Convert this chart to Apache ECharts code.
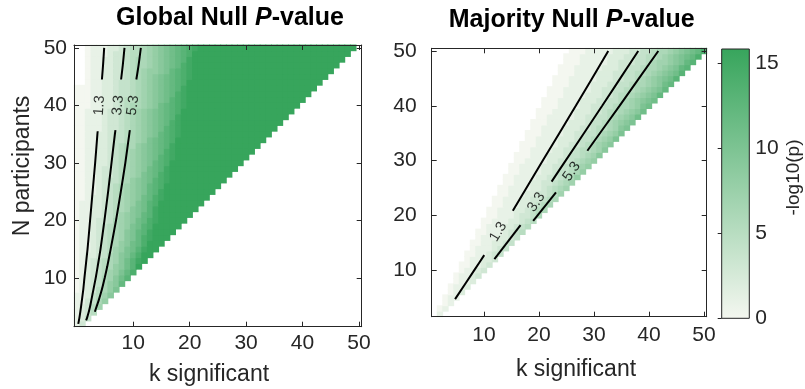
<!DOCTYPE html>
<html><head><meta charset="utf-8">
<script src="https://cdn.jsdelivr.net/npm/echarts@6/dist/echarts.min.js"></script>
<style>html,body{margin:0;padding:0;background:#fff}#c{width:805px;height:389px}</style>
</head><body><div id="c"></div>
<script>
// ---------- DATA ----------
const xTicks = [10, 20, 30, 40, 50];
const yTicks = [10, 20, 30, 40, 50];
const cbTicks = [0, 5, 10, 15];
const cbMax = 15.85;
const titles = ['Global Null ', 'P', '-value', 'Majority Null '];
const xName = 'k significant';
const yName = 'N participants';
const cbName = '-log10(p)';

// -log10(p) levels read per row (0-9, a-g = 10-16, '-' = blank).
// Global null: row N = 2..50, character i is column k = i.
const G10 = 'gggggggggg';
const globalRows = [
  '13', '124', '1235', '12357', '113468', '1124579', '0123568a', '01234689c',
  '01234679bd', '01234578ace', '012345689bdg', '012345679bdfg', '012234679acegg',
  '011234578abdfgg', '0112345689bceggg', '0112345679acefggg', '0112345679acdfgggg',
  '0112345678abdeggggg', '01123346789bcefggggg',
  '01122345789acdf' + 'gggggg',
  '01122345679abdf' + 'ggggggg',
  '01122345678abde' + 'gggggggg',
  '001223456789bcef' + 'gggggggg',
  '001123456789acdf' + 'ggggggggg',
  '001123456789acde' + G10,
  '001123445689abdef' + G10,
  '001123345678abcef' + G10 + 'g',
  '0011233456789bcdf' + G10 + 'gg',
  '0011223456789acde' + G10 + 'ggg',
  '0011223456789abdef' + G10 + 'ggg',
  '0011223456789abcef' + G10 + 'gggg',
  '0011223456689abcdf' + G10 + 'ggggg',
  '0011223445678abcde' + G10 + 'gggggg',
  '00112234456789acdef' + G10 + 'gggggg',
  '00111233456789abdef' + G10 + 'ggggggg',
  '00111233456789abcef' + G10 + 'gggggggg',
  '00111233456789abcdf' + G10 + 'ggggggggg',
  '00111233456789abcde' + G10 + G10,
  '000112234566789bcdef' + G10 + G10,
  '000112234556789abdef' + G10 + G10 + 'g',
  '000112234456789abcef' + G10 + G10 + 'gg',
  '000112234456789abcdf' + G10 + G10 + 'ggg',
  '--0112234456789abcde' + G10 + G10 + 'gggg',
  '--0112233456789abcdef' + G10 + G10 + 'gggg',
  '--01122334567889acdef' + G10 + G10 + 'ggggg',
  '--01122334566789abcef' + G10 + G10 + 'gggggg',
  '--01122334566789abcdf' + G10 + G10 + 'ggggggg',
  '--01112334556789abcde' + G10 + G10 + 'gggggggg',
  '--01112234556789abcdef' + G10 + G10 + 'gggggggg'
];
// Majority null: row N = 2..50, the last character is column k = N.
const majorityRows = [
  '1', '01', '01', '011', '012', '0112', '0112', '01123', '01123', '001123', '011223',
  '0011234', '0111234', '00112234', '01112234', '001112345', '011122345', '0011122345',
  '0011123346', '00111223456', '00111223456', '001112233456', '001112233457',
  '0011112234567', '0011122334567', '00111122334568', '00111122344568',
  '001111223345678', '001111223345678', '0001112223445679', '0011112233455679',
  '00011112233456789', '0011112223445678a', '00011112233445678a', '00111122233455679a',
  '000111122234456789a', '001111122334456789b', '0001111222334556789b',
  '000111122334456678ab', '0001111222334456789ab', '0001111222334556789ac',
  '00011111223344556789ac', '00011112223344566789bc', '00011111222334456789abd',
  '00011112223344556789abd', '000111112223344566789acd', '000111112233344567789acd',
  '000111112223344556789abce', '000111112223344566789abce'
];

// contour lines [k, N]
const gContour13 = [[[0.25,2],[0.45,3],[0.75,5],[1.15,8],[1.35,10],[1.9,15],[2.35,20],[2.8,25],[3.25,30],[3.65,35],[3.7,35.5]], [[4.45,44.5],[4.65,47],[4.85,50]]];
const gContour33 = [[[1.65,2.6],[1.8,3],[2.1,4],[2.35,5],[2.55,6],[2.95,8],[3.35,10],[3.7,12],[4.2,15],[4.9,20],[5.55,25],[6.15,30],[6.75,35],[6.85,35.7]], [[7.85,44.5],[8.15,47],[8.45,50]]];
const gContour53 = [[[3.2,4.1],[3.5,5],[3.85,6],[4.45,8],[4.95,10],[5.4,12],[6.0,15],[6.95,20],[7.8,25],[8.6,30],[9.3,35],[9.4,35.7]], [[10.55,44.5],[10.95,47],[11.35,50]]];
const mContour13 = [[[4.75,4.7],[8.25,10],[10.05,12.75]], [[15.25,20.85],[20.7,30],[26.7,40],[32.6,50]]];
const mContour33 = [[[11.9,12],[16.65,18.2]], [[22.3,26.15],[24.85,30],[31.5,40],[38.05,50]]];
const mContour53 = [[[18.95,19],[23.1,24.2]], [[28.8,31.8],[34.65,40],[41.7,50]]];
const contourText = ['1.3', '3.3', '5.3'];
const gLabelPos = [[4.0,40],[7.3,40],[9.95,40]];
const gLabelAngle = [86, 84, 82];
const mLabelPos = [[12.6,17.0],[19.5,22.4],[25.95,28.0]];
const mLabelAngle = [59, 56, 55];

// ---------- CHART ----------
const FONT = 'Liberation Sans, Arial, Helvetica, sans-serif';
const AX = '#262626';
const C0 = '#f4f7f0', C1 = '#37a55c';

function decodeGlobal() {
  const out = [];
  globalRows.forEach((s, r) => {
    const n = r + 2;
    for (let i = 0; i < s.length; i++) {
      if (s[i] === '-') continue;
      out.push([i, n, parseInt(s[i], 36)]);
    }
  });
  return out;
}
function decodeMajority() {
  const out = [];
  majorityRows.forEach((s, r) => {
    const n = r + 2;
    const k0 = n - s.length + 1;
    for (let i = 0; i < s.length; i++) out.push([k0 + i, n, parseInt(s[i], 36)]);
  });
  return out;
}
function renderCell(params, api) {
  const k = api.value(0), n = api.value(1);
  const p0 = api.coord([k - 0.5, n + 0.5]);
  const p1 = api.coord([k + 0.5, n - 0.5]);
  const c = api.visual('color');
  const e = 0.45;
  return { type: 'rect', shape: { x: p0[0] - e, y: p0[1] - e, width: p1[0] - p0[0] + 2 * e, height: p1[1] - p0[1] + 2 * e },
           style: { fill: c, stroke: null } };
}
function xAx(grid, min, max, pos, showLabel, margin) {
  return { gridIndex: grid, type: 'value', min, max, position: pos, z: 10,
    axisLine: { show: true, onZero: false, lineStyle: { color: AX, width: 1 } },
    axisTick: { show: true, inside: true, length: 5, customValues: xTicks, lineStyle: { color: AX } },
    axisLabel: { show: showLabel, customValues: xTicks, fontSize: 21, color: AX, fontFamily: FONT, margin },
    splitLine: { show: false } };
}
function yAx(grid, min, max, pos, showLabel, margin) {
  return { gridIndex: grid, type: 'value', min, max, position: pos, z: 10,
    axisLine: { show: true, onZero: false, lineStyle: { color: AX, width: 1 } },
    axisTick: { show: true, inside: true, length: 5, customValues: yTicks, lineStyle: { color: AX } },
    axisLabel: { show: showLabel, customValues: yTicks, fontSize: 21, color: AX, fontFamily: FONT, margin },
    splitLine: { show: false } };
}
function lines(segs, xi, yi) {
  return segs.map(d => ({ type: 'line', xAxisIndex: xi, yAxisIndex: yi, data: d, symbol: 'none',
    smooth: 0.2, lineStyle: { color: '#000', width: 2 }, z: 5, silent: true }));
}
function labels(pos, ang, xi, yi) {
  return { type: 'scatter', xAxisIndex: xi, yAxisIndex: yi, symbolSize: 0, z: 6, silent: true,
    data: pos.map((p, i) => ({ value: p, name: contourText[i], label: { rotate: ang[i] } })),
    label: { show: true, position: 'inside', formatter: p => p.name, fontSize: 14.5, color: '#000', fontFamily: FONT } };
}

const chart = echarts.init(document.getElementById('c'), null, { width: 805, height: 389 });
const cbAxis = { gridIndex: 2, type: 'value', min: 0, max: cbMax, position: 'right', z: 10,
  axisLine: { show: false },
  axisTick: { show: true, inside: true, length: 4, customValues: cbTicks, lineStyle: { color: AX } },
  axisLabel: { show: true, customValues: cbTicks, fontSize: 21, color: AX, fontFamily: FONT, margin: 6 },
  splitLine: { show: false } };

const series = [
  { type: 'custom', xAxisIndex: 0, yAxisIndex: 0, data: decodeGlobal(), renderItem: renderCell, encode: { x: 0, y: 1 }, z: 2, silent: true },
  { type: 'custom', xAxisIndex: 2, yAxisIndex: 2, data: decodeMajority(), renderItem: renderCell, encode: { x: 0, y: 1 }, z: 2, silent: true }
].concat(
  lines(gContour13, 0, 0), lines(gContour33, 0, 0), lines(gContour53, 0, 0),
  lines(mContour13, 2, 2), lines(mContour33, 2, 2), lines(mContour53, 2, 2),
  [labels(gLabelPos, gLabelAngle, 0, 0), labels(mLabelPos, mLabelAngle, 2, 2)]
);

function titleRich(main) {
  return { text: '{a|' + main + '}{b|' + titles[1] + '}{a|' + titles[2] + '}',
    rich: { a: { fontSize: 25, fontWeight: 'bold', fontFamily: FONT, fill: '#000' },
            b: { fontSize: 25, fontWeight: 'bold', fontStyle: 'italic', fontFamily: FONT, fill: '#000' } },
    align: 'center', verticalAlign: 'middle', textAlign: 'center', textVerticalAlign: 'middle' };
}
function txt(x, y, s, size, rot) {
  return { type: 'text', x, y, rotation: rot || 0, z: 20,
    style: { text: s, fontSize: size, fontFamily: FONT, fill: AX, align: 'center', verticalAlign: 'middle', textAlign: 'center', textVerticalAlign: 'middle' } };
}

chart.setOption({
  animation: false,
  grid: [
    { left: 74, top: 45, width: 287.7, height: 281.7 },
    { left: 431.7, top: 48.3, width: 275, height: 268.4 },
    { left: 721.7, top: 49, width: 27.6, height: 269.3 }
  ],
  xAxis: [
    xAx(0, -0.5, 50.5, 'bottom', true, 6), xAx(0, -0.5, 50.5, 'top', false, 6),
    xAx(1, 0.5, 50.5, 'bottom', true, 8), xAx(1, 0.5, 50.5, 'top', false, 8),
    { gridIndex: 2, type: 'value', min: 0, max: 1, show: false }
  ],
  yAxis: [
    yAx(0, 1.5, 50.5, 'left', true, 7), yAx(0, 1.5, 50.5, 'right', false, 7),
    yAx(1, 1.5, 50.5, 'left', true, 15), yAx(1, 1.5, 50.5, 'right', false, 15),
    cbAxis
  ],
  visualMap: { type: 'continuous', show: false, min: 0, max: cbMax, dimension: 2, seriesIndex: [0, 1],
    inRange: { color: [C0, C1] } },
  graphic: [
    { type: 'rect', z: 1, shape: { x: 721.7, y: 49, width: 27.6, height: 269.3 },
      style: { fill: new echarts.graphic.LinearGradient(0, 1, 0, 0, [{ offset: 0, color: C0 }, { offset: 1, color: C1 }]),
               stroke: AX, lineWidth: 1 } },
    { type: 'text', x: 230, y: 18, z: 20, style: titleRich(titles[0]) },
    { type: 'text', x: 571.7, y: 20, z: 20, style: titleRich(titles[3]) },
    txt(209, 375, xName, 23), txt(576, 370, xName, 23),
    txt(23, 166, yName, 23, Math.PI / 2),
    txt(794, 177.5, cbName, 19, Math.PI / 2)
  ],
  series
});
</script></body></html>
